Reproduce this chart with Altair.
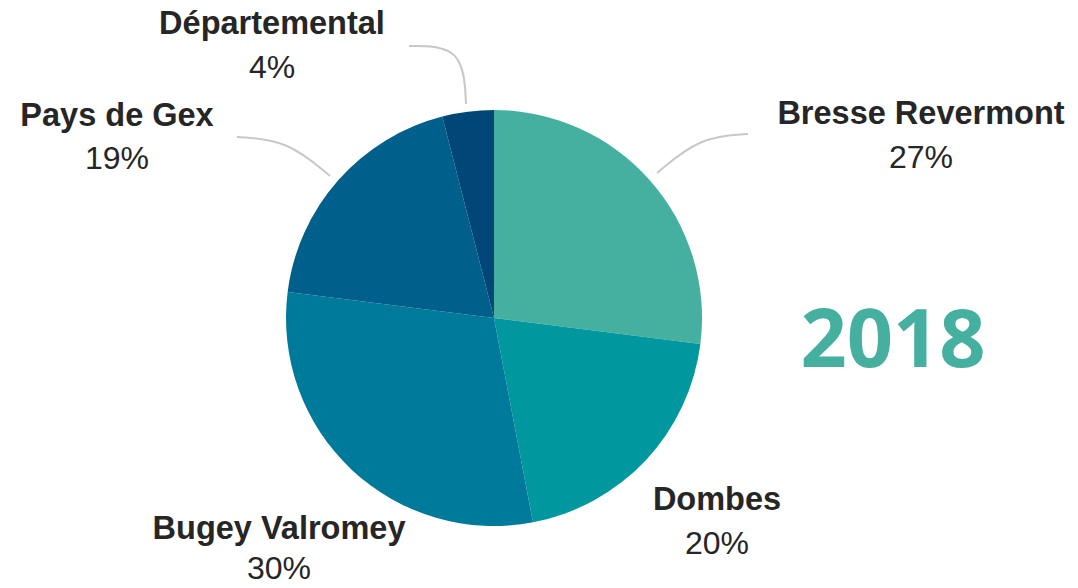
import altair as alt
import pandas as pd

# Data
regions = ["Bresse Revermont", "Dombes", "Bugey Valromey", "Pays de Gex", "Départemental"]
shares = [27, 20, 30, 19, 4]
pct_labels = ["27%", "20%", "30%", "19%", "4%"]
colors = ["#45AFA0", "#00979E", "#007A9A", "#005F8B", "#004677"]
year_label = "2018"

# Layout (pixel positions inside the plot area, kept separate from the data)
W, H = 1062, 572
CX, CY, R = 486, 310, 208
label_x = [913, 709, 271, 109, 264]
name_y = [116, 502, 531, 118, 26]
pct_y = [160, 546, 571, 161, 70]
connectors = {
    "Bresse Revermont": [(649, 165), (692, 129), (740, 126)],
    "Pays de Gex": [(229, 129), (279, 132), (322, 168)],
    "Départemental": [(401, 38), (455, 38), (458, 96)],
}

pie_df = pd.DataFrame({"region": regions, "share": shares, "idx": list(range(len(regions)))})
lab_df = pd.DataFrame({"region": regions, "pct": pct_labels, "lx": label_x, "ny": name_y, "py": pct_y})
rows = []
for name, pts in connectors.items():
    for i, (px, py) in enumerate(pts):
        rows.append({"region": name, "i": i, "x": px, "y": py})
con_df = pd.DataFrame(rows)

xs = alt.Scale(domain=[0, W], range=[0, W])
ys = alt.Scale(domain=[0, H], range=[0, H])

pie = alt.Chart(pie_df).mark_arc(radius=R, stroke=None).encode(
    theta=alt.Theta("share:Q", stack=True),
    order=alt.Order("idx:Q"),
    color=alt.Color("region:N", scale=alt.Scale(domain=regions, range=colors), legend=None),
    x=alt.value(CX),
    y=alt.value(CY),
)

lines = alt.Chart(con_df).mark_line(interpolate="basis", color="#C8C8C8", strokeWidth=2).encode(
    x=alt.X("x:Q", scale=xs, axis=None),
    y=alt.Y("y:Q", scale=ys, axis=None),
    detail="region:N",
    order="i:Q",
)

names = alt.Chart(lab_df).mark_text(
    font="Liberation Sans", fontSize=32.5, fontWeight="bold", color="#262626",
    align="center", baseline="alphabetic",
).encode(
    x=alt.X("lx:Q", scale=xs, axis=None),
    y=alt.Y("ny:Q", scale=ys, axis=None),
    text="region:N",
)

pcts = alt.Chart(lab_df).mark_text(
    font="Liberation Sans", fontSize=32, color="#262626",
    align="center", baseline="alphabetic",
).encode(
    x=alt.X("lx:Q", scale=xs, axis=None),
    y=alt.Y("py:Q", scale=ys, axis=None),
    text="pct:N",
)

year = alt.Chart(pd.DataFrame({"t": [year_label]})).mark_text(
    font="Open Sans", fontSize=81, fontWeight="bold", color="#45AFA0",
    align="center", baseline="alphabetic",
).encode(
    x=alt.value(885),
    y=alt.value(359),
    text="t:N",
)

chart = alt.layer(pie, lines, names, pcts, year).properties(
    width=W, height=H, padding=0, autosize=alt.AutoSizeParams(type="none"),
).configure_view(stroke=None)

chart.save("out.html", embed_options={"renderer": "svg", "actions": False})
